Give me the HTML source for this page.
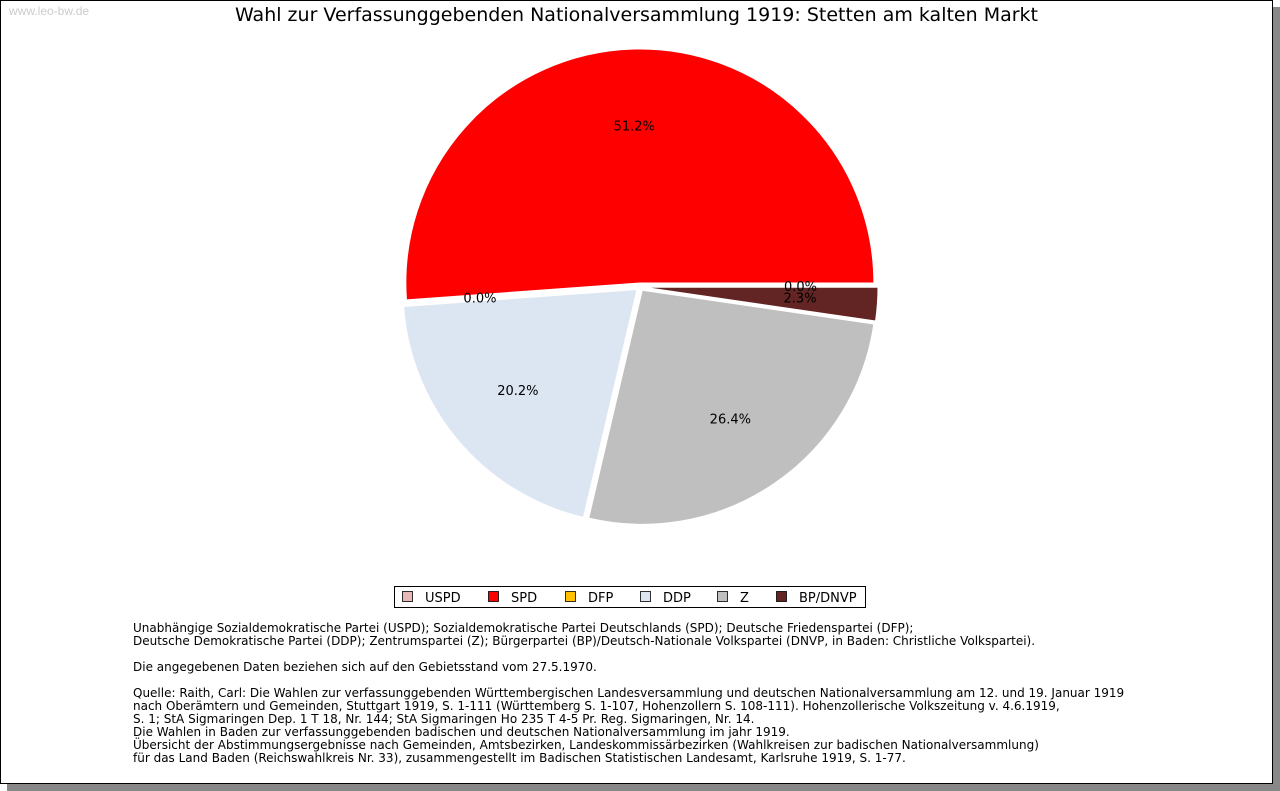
<!DOCTYPE html>
<html><head><meta charset="utf-8"><style>
body{margin:0;width:1280px;height:791px;background:#fff;position:relative;overflow:hidden;font-family:"DejaVu Sans","Liberation Sans",sans-serif}
#frame{position:absolute;left:0;top:0;width:1271px;height:782px;border:1px solid #000;background:#fff;box-shadow:7px 7px 0 #888}
#wm{position:absolute;left:9px;top:4px;font-size:12px;color:#ccc;font-family:"Liberation Sans",sans-serif}
#title{position:absolute;left:0;width:1273px;top:4px;text-align:center;font-size:19px;color:#000}
#notes{position:absolute;left:133px;top:622px;font-size:12px;line-height:13px;color:#000;white-space:pre}
</style></head><body>
<div id="frame"></div>
<div id="wm">www.leo-bw.de</div>
<div id="title">Wahl zur Verfassunggebenden Nationalversammlung 1919: Stetten am kalten Markt</div>
<svg id="pie" width="1280" height="791" style="position:absolute;left:0;top:0"></svg>
<div id="notes">Unabhängige Sozialdemokratische Partei (USPD); Sozialdemokratische Partei Deutschlands (SPD); Deutsche Friedenspartei (DFP);
Deutsche Demokratische Partei (DDP); Zentrumspartei (Z); Bürgerpartei (BP)/Deutsch-Nationale Volkspartei (DNVP, in Baden: Christliche Volkspartei).

Die angegebenen Daten beziehen sich auf den Gebietsstand vom 27.5.1970.

Quelle: Raith, Carl: Die Wahlen zur verfassunggebenden Württembergischen Landesversammlung und deutschen Nationalversammlung am 12. und 19. Januar 1919
nach Oberämtern und Gemeinden, Stuttgart 1919, S. 1-111 (Württemberg S. 1-107, Hohenzollern S. 108-111). Hohenzollerische Volkszeitung v. 4.6.1919,
S. 1; StA Sigmaringen Dep. 1 T 18, Nr. 144; StA Sigmaringen Ho 235 T 4-5 Pr. Reg. Sigmaringen, Nr. 14.
Die Wahlen in Baden zur verfassunggebenden badischen und deutschen Nationalversammlung im jahr 1919.
Übersicht der Abstimmungsergebnisse nach Gemeinden, Amtsbezirken, Landeskommissärbezirken (Wahlkreisen zur badischen Nationalversammlung)
für das Land Baden (Reichswahlkreis Nr. 33), zusammengestellt im Badischen Statistischen Landesamt, Karlsruhe 1919, S. 1-77.</div>
<script>
const parties=["USPD","SPD","DFP","DDP","Z","BP/DNVP"];
const shares=[0.0,51.2,0.0,20.2,26.4,2.3];
const colors=["#e6b8b8","#ff0000","#ffc000","#dce6f2","#bfbfbf","#632523"];
const NS="http://www.w3.org/2000/svg";
const svg=document.getElementById('pie');
const cx=640,cy=287,R=234,off=4;
const total=shares.reduce((a,b)=>a+b,0);
let a0=0;
function pt(a,r,ox,oy){return [ox+r*Math.cos(a),oy-r*Math.sin(a)];}
const labels=[];
shares.forEach((v,i)=>{
  const sweep=v/total*2*Math.PI, a1=a0+sweep, mid=a0+sweep/2;
  const ox=cx+off*Math.cos(mid), oy=cy-off*Math.sin(mid);
  if(v>0){
    const p0=pt(a0,R,ox,oy),p1=pt(a1,R,ox,oy);
    const path=document.createElementNS(NS,'path');
    path.setAttribute('d',`M${ox},${oy}L${p0[0]},${p0[1]}A${R},${R} 0 ${sweep>Math.PI?1:0} 0 ${p1[0]},${p1[1]}Z`);
    path.setAttribute('fill',colors[i]);
    path.setAttribute('stroke','#fff');path.setAttribute('stroke-width','1');
    
    
    svg.appendChild(path);
  }
  const lp=pt(mid,236*0.68,cx,cy);
  labels.push([lp,v.toFixed(1)+'%',parties[i]]);
  a0=a1;
});
labels.forEach(([p,t,n])=>{
  const tx=document.createElementNS(NS,'text');
  tx.setAttribute('x',p[0]);tx.setAttribute('y',p[1]+4);
  tx.setAttribute('text-anchor','middle');tx.setAttribute('font-size','13');
  tx.setAttribute('font-family','DejaVu Sans, sans-serif');
  tx.textContent=t;
  
  
  svg.appendChild(tx);
});
const lg=document.createElementNS(NS,'rect');
lg.setAttribute('x',394.5);lg.setAttribute('y',586.5);lg.setAttribute('width',471);lg.setAttribute('height',21);
lg.setAttribute('fill','#fff');lg.setAttribute('stroke','#000');


svg.appendChild(lg);
const lx=[402,488,565,640,717,776];
parties.forEach((p,i)=>{
  const r=document.createElementNS(NS,'rect');
  r.setAttribute('x',lx[i]+0.5);r.setAttribute('y',591.5);r.setAttribute('width',10);r.setAttribute('height',10);
  r.setAttribute('fill',colors[i]);r.setAttribute('stroke','#000');r.setAttribute('stroke-width','0.8');
  
  
  svg.appendChild(r);
  const t=document.createElementNS(NS,'text');
  t.setAttribute('x',lx[i]+23);t.setAttribute('y',602);t.setAttribute('font-size','13');
  t.setAttribute('font-family','DejaVu Sans, sans-serif');
  t.textContent=p;
  
  
  svg.appendChild(t);
});
</script>
</body></html>
